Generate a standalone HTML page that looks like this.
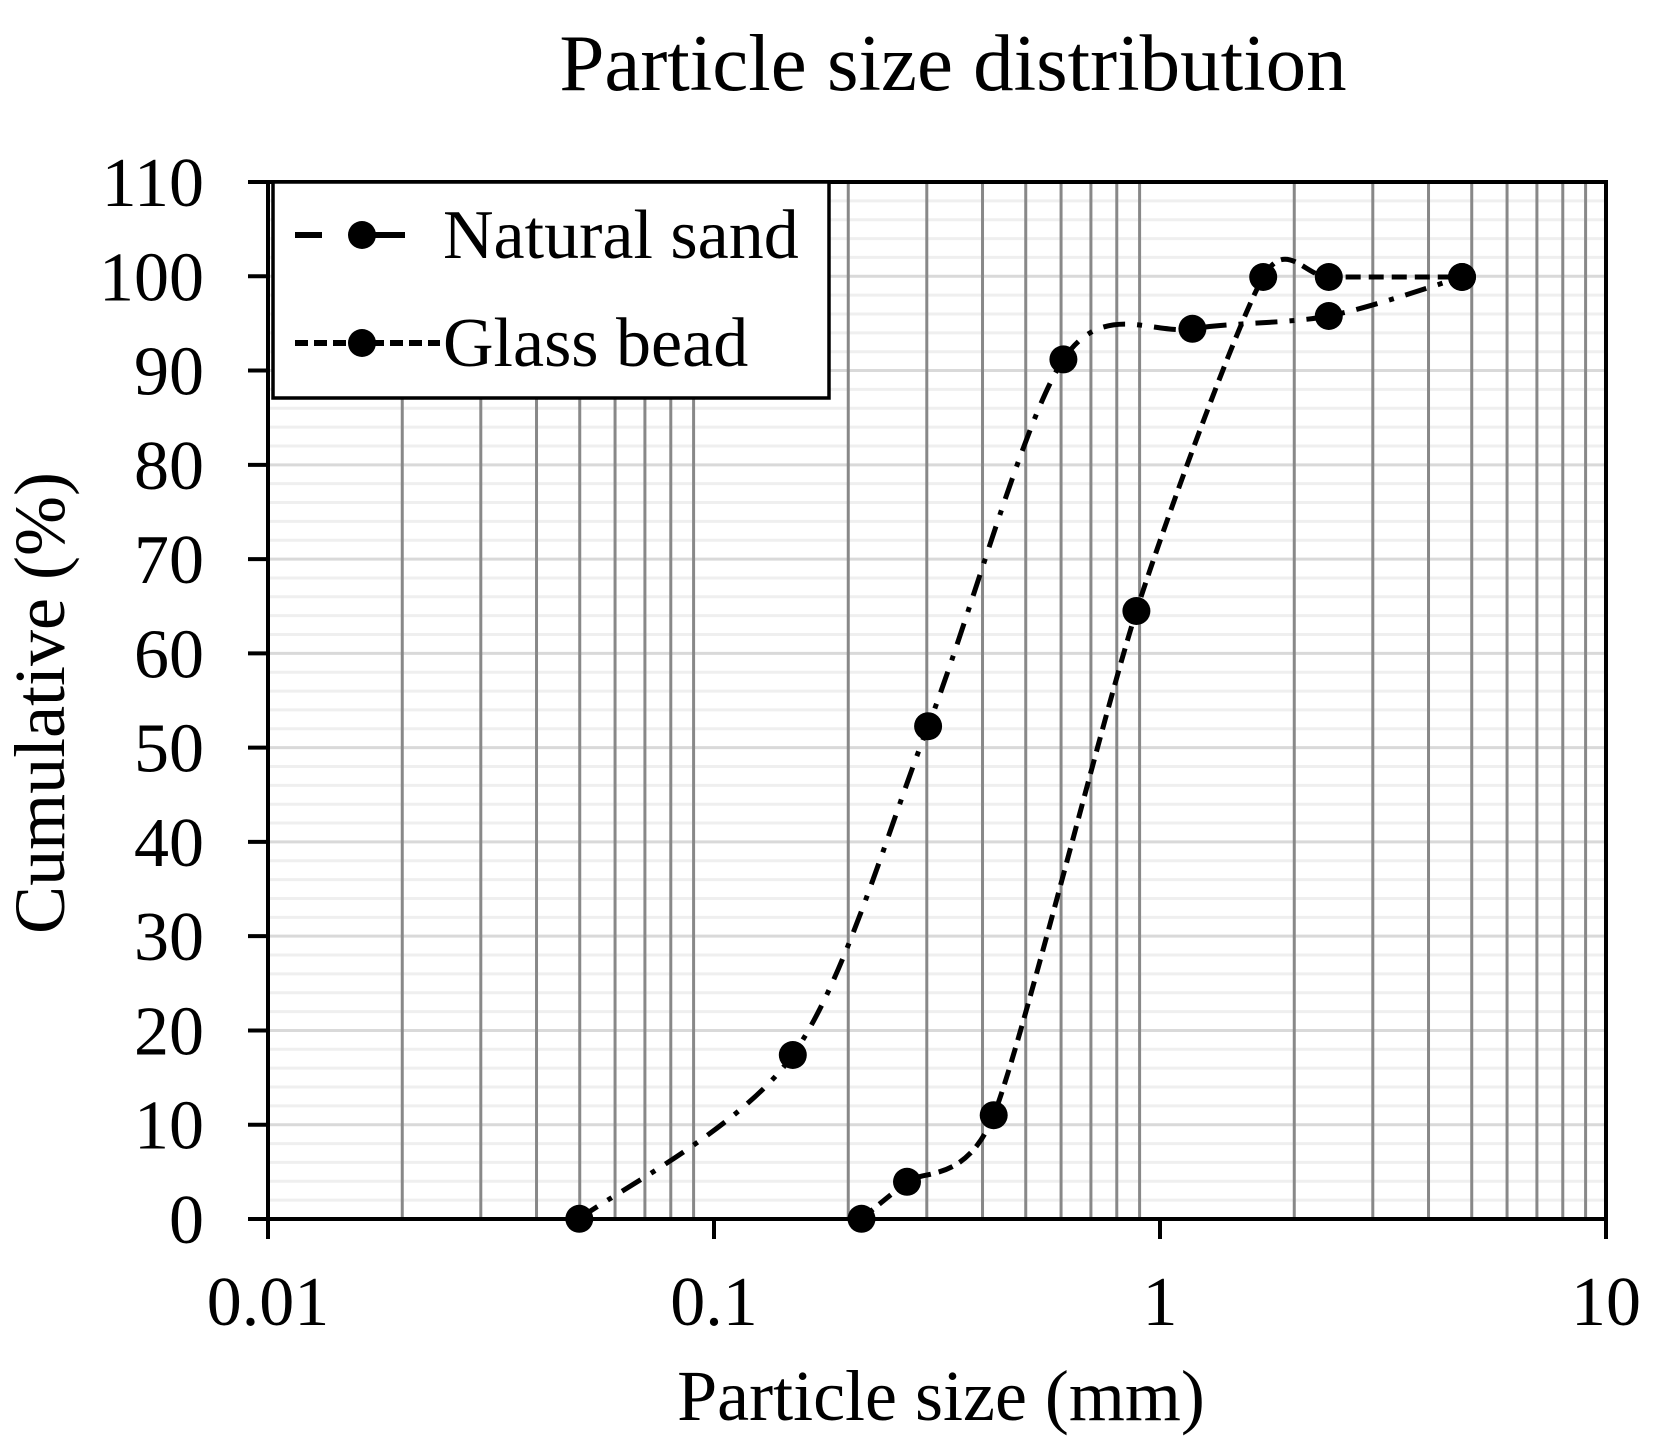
<!DOCTYPE html>
<html><head><meta charset="utf-8"><style>
html,body{margin:0;padding:0;background:#fff;}
svg{display:block;}
text{font-family:"Liberation Serif",serif;fill:#000;}
</style></head><body>
<svg id="s" width="1659" height="1448" viewBox="0 0 1659 1448" xmlns="http://www.w3.org/2000/svg">
<rect width="1659" height="1448" fill="#fff"/>
<g id="grid"></g>
<g id="series"></g>
<g id="axes"></g>
<text x="953" y="90" font-size="81" text-anchor="middle">Particle size distribution</text>
<text x="941" y="1420" font-size="72" text-anchor="middle">Particle size (mm)</text>
<text transform="translate(64,703) rotate(-90)" font-size="72" text-anchor="middle">Cumulative (%)</text>
<rect x="273" y="182" width="556" height="216" fill="#fff" stroke="#000" stroke-width="3.5"/>
<line x1="295" y1="235" x2="322" y2="235" stroke="#000" stroke-width="6"/>
<line x1="355" y1="235" x2="405" y2="235" stroke="#000" stroke-width="6"/>
<circle cx="362" cy="235" r="14" fill="#000"/>
<text x="443" y="258" font-size="70">Natural sand</text>
<line x1="295" y1="343" x2="440" y2="343" stroke="#000" stroke-width="6" stroke-dasharray="13,6"/>
<circle cx="362" cy="343" r="14" fill="#000"/>
<text x="443" y="366" font-size="70">Glass bead</text>
</svg>
<script>
const NS="http://www.w3.org/2000/svg";
function el(p,t,a){const e=document.createElementNS(NS,t);for(const k in a)e.setAttribute(k,a[k]);p.appendChild(e);return e;}
const L=268,R=1606,T=182,B=1219;
const dec=(R-L)/3;
const X=v=>L+(Math.log10(v)+2)*dec;
const Y=v=>B-(B-T)*v/110;
const g=document.getElementById('grid'),ax=document.getElementById('axes'),s=document.getElementById('series');
for(let v=2;v<110;v+=2){el(g,'line',{x1:L,x2:R,y1:Y(v),y2:Y(v),stroke:v%10==0?'#d9d9d9':'#efefef','stroke-width':3});}
for(let d of [0.01,0.1,1]){for(let m=2;m<=9;m++){const x=X(d*m);el(g,'line',{x1:x,x2:x,y1:T,y2:B,stroke:'#888','stroke-width':3});}}
el(ax,'rect',{x:L,y:T,width:R-L,height:B-T,fill:'none',stroke:'#000','stroke-width':4});
for(let v=0;v<=110;v+=10){el(ax,'line',{x1:L-20,x2:L,y1:Y(v),y2:Y(v),stroke:'#000','stroke-width':4});
 const t=el(ax,'text',{x:204,y:Y(v)+24,'font-size':70,'text-anchor':'end'});t.textContent=v;}
[['0.01',0.01],['0.1',0.1],['1',1],['10',10]].forEach(([l,v])=>{el(ax,'line',{x1:X(v),x2:X(v),y1:B,y2:B+20,stroke:'#000','stroke-width':4});
 const t=el(ax,'text',{x:X(v),y:1325,'font-size':70,'text-anchor':'middle'});t.textContent=l;});
function path(p,k){let d='M'+p[0][0]+','+p[0][1];for(let i=0;i<p.length-1;i++){const p0=p[i-1]||p[i],p1=p[i],p2=p[i+1],p3=p[i+2]||p2;
 const c1=[p1[0]+(p2[0]-p0[0])*k,p1[1]+(p2[1]-p0[1])*k],c2=[p2[0]-(p3[0]-p1[0])*k,p2[1]-(p3[1]-p1[1])*k];
 d+=` C${c1[0]},${c1[1]} ${c2[0]},${c2[1]} ${p2[0]},${p2[1]}`;}return d;}
const ns=[[861.5,1218.8],[907,1181.8],[993.7,1115.2],[1136.4,611],[1263.2,277],[1328.8,277],[1462,277]];
const gb=[[579.3,1218.8],[792.8,1055],[928.1,726.2],[1063.4,359.4],[1192.4,328.8],[1328.8,316],[1462,277]];
el(s,'path',{d:path(ns,0.12),fill:'none',stroke:'#000','stroke-width':5,'stroke-dasharray':'15,8'});
el(s,'path',{d:path(gb,0.15),fill:'none',stroke:'#000','stroke-width':5,'stroke-dasharray':'22,12,5,12'});
ns.concat(gb).forEach(p=>el(s,'circle',{cx:p[0],cy:p[1],r:14,fill:'#000'}));
</script>
</body></html>
